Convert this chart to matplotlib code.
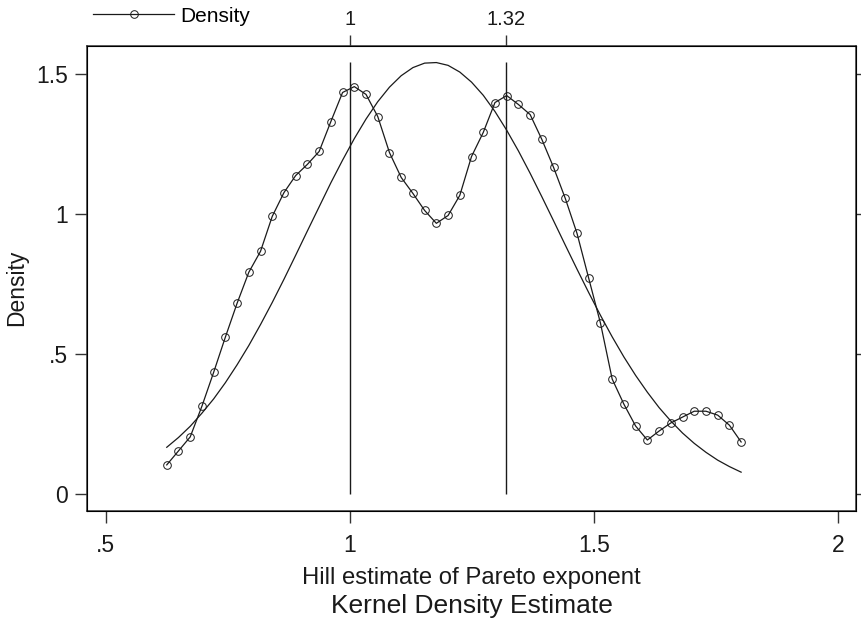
import matplotlib
matplotlib.use("Agg")
import matplotlib.pyplot as plt

plt.rcParams['font.family'] = ['Liberation Sans', 'DejaVu Sans']

# grid where the kernel density was evaluated
hill = [0.625, 0.649, 0.673, 0.697, 0.721, 0.745, 0.769, 0.793, 0.817, 0.841,
        0.865, 0.889, 0.913, 0.937, 0.961, 0.985, 1.009, 1.033, 1.057, 1.081,
        1.105, 1.129, 1.153, 1.177, 1.201, 1.225, 1.249, 1.273, 1.297, 1.321,
        1.345, 1.369, 1.393, 1.417, 1.441, 1.465, 1.489, 1.513, 1.537, 1.561,
        1.585, 1.609, 1.633, 1.657, 1.681, 1.705, 1.729, 1.753, 1.777, 1.801]

# kernel density estimate (markers)
density = [0.103, 0.153, 0.203, 0.313, 0.434, 0.560, 0.681, 0.792, 0.867, 0.992,
           1.077, 1.138, 1.178, 1.224, 1.331, 1.435, 1.456, 1.428, 1.349, 1.220,
           1.131, 1.074, 1.013, 0.967, 0.995, 1.067, 1.206, 1.292, 1.399, 1.424,
           1.392, 1.356, 1.267, 1.167, 1.056, 0.931, 0.770, 0.610, 0.410, 0.320,
           0.242, 0.192, 0.224, 0.253, 0.274, 0.295, 0.295, 0.281, 0.245, 0.185]

# normal density overlay
normal = [0.166, 0.201, 0.241, 0.288, 0.339, 0.397, 0.461, 0.530, 0.605, 0.684,
          0.767, 0.853, 0.940, 1.026, 1.112, 1.193, 1.270, 1.340, 1.402, 1.454,
          1.495, 1.524, 1.540, 1.542, 1.532, 1.508, 1.472, 1.425, 1.367, 1.300,
          1.226, 1.146, 1.062, 0.976, 0.889, 0.803, 0.719, 0.638, 0.561, 0.489,
          0.423, 0.363, 0.308, 0.260, 0.217, 0.180, 0.148, 0.120, 0.097, 0.077]

xticks = [0.5, 1, 1.5, 2]
xticklabels = ['.5', '1', '1.5', '2']
yticks = [0, 0.5, 1, 1.5]
yticklabels = ['0', '.5', '1', '1.5']
refs = [1, 1.32]
reflabels = ['1', '1.32']
ref_top = 1.545

ink = '#1a1a1a'
frame = '#333333'

fig = plt.figure(figsize=(8.61, 6.26), dpi=100)
ax = fig.add_axes([87/861, 1 - 511/626, (856-87)/861, (511-45.7)/626])

ax.plot(hill, normal, color=ink, lw=0.9)
ax.plot(hill, density, color=ink, lw=0.9, marker='o', ms=5.5,
        mfc='none', mec=ink, mew=0.7, label='Density')
ax.vlines(refs, 0, ref_top, color=ink, lw=1.0)

ax.set_xlim(0.4617, 2.0362)
ax.set_ylim(-0.0619, 1.6023)
ax.set_xticks(xticks)
ax.set_xticklabels(xticklabels)
ax.set_yticks(yticks)
ax.set_yticklabels(yticklabels)
ax.tick_params(axis='both', direction='out', length=8.5, width=1.0,
               color=frame, labelsize=16.5, labelcolor=ink, pad=5)
ax.tick_params(axis='x', pad=8)
ax.tick_params(axis='y', right=True)
for s in ax.spines.values():
    s.set_color(frame)
    s.set_linewidth(1.1)

top = ax.twiny()
top.set_xlim(ax.get_xlim())
top.set_xticks(refs)
top.set_xticklabels(reflabels)
top.tick_params(axis='x', direction='out', length=8, width=1.0, color=frame,
                labelsize=14.5, labelcolor=ink, pad=4)

ax.set_ylabel('Density', fontsize=16.5, color=ink)
ax.yaxis.set_label_coords(-0.0767, 0.48)
fig.text(471.5/861, 1 - 578/626, 'Hill estimate of Pareto exponent',
         ha='center', va='center', fontsize=17.2, color=ink)
fig.text(471.5/861, 1 - 606/626, 'Kernel Density Estimate',
         ha='center', va='center', fontsize=19, color=ink)

fig.legend(loc='center left', bbox_to_anchor=(93/861, 1 - 16/626),
           frameon=False, borderpad=0, borderaxespad=0, handlelength=3.9,
           handletextpad=0.3, numpoints=1, fontsize=15)

fig.savefig('out.png', dpi=100)
